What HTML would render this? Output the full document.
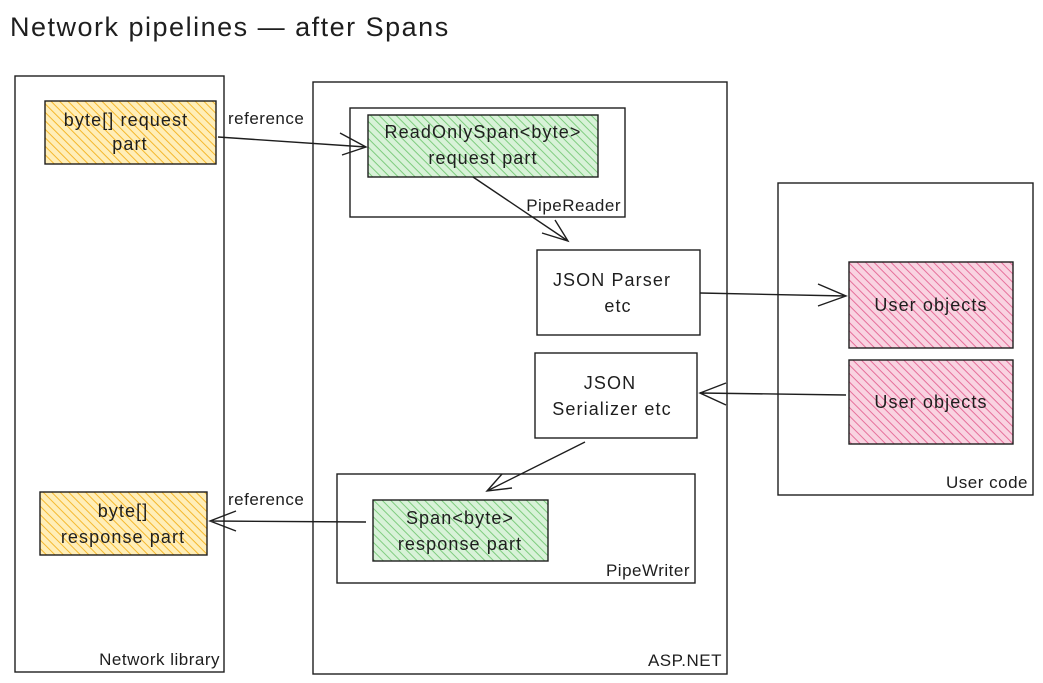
<!DOCTYPE html>
<html><head><meta charset="utf-8"><style>
html,body{margin:0;padding:0;background:#fff;}
svg{display:block}
text{font-family:"Liberation Sans",sans-serif;fill:#1e1e1e}
</style></head><body>
<svg width="1043" height="683" viewBox="0 0 1043 683" xmlns="http://www.w3.org/2000/svg">
<defs>
<pattern id="po" width="6" height="6" patternUnits="userSpaceOnUse" patternTransform="rotate(-45)">
<rect width="6" height="6" fill="#ffeeb8"/><line x1="0" y1="0" x2="0" y2="6" stroke="#f5b82e" stroke-width="2"/></pattern>
<pattern id="pg" width="6" height="6" patternUnits="userSpaceOnUse" patternTransform="rotate(-45)">
<rect width="6" height="6" fill="#d8f2d8"/><line x1="0" y1="0" x2="0" y2="6" stroke="#7fcc7f" stroke-width="2"/></pattern>
<pattern id="pp" width="6" height="6" patternUnits="userSpaceOnUse" patternTransform="rotate(-45)">
<rect width="6" height="6" fill="#f9d3e1"/><line x1="0" y1="0" x2="0" y2="6" stroke="#e6709b" stroke-width="2"/></pattern>
</defs>
<g fill="none" stroke="#1e1e1e" stroke-width="1.4">
<rect x="15" y="76" width="209" height="596"/>
<rect x="313" y="82" width="414" height="592"/>
<rect x="350" y="108" width="275" height="109"/>
<rect x="537" y="250" width="163" height="85"/>
<rect x="535" y="353" width="162" height="85"/>
<rect x="337" y="474" width="358" height="109"/>
<rect x="778" y="183" width="255" height="312"/>
<rect x="45" y="101" width="171" height="63" fill="url(#po)"/>
<rect x="40" y="492" width="167" height="63" fill="url(#po)"/>
<rect x="368" y="115" width="230" height="62" fill="url(#pg)"/>
<rect x="373" y="500" width="175" height="61" fill="url(#pg)"/>
<rect x="849" y="262" width="164" height="86" fill="url(#pp)"/>
<rect x="849" y="360" width="164" height="84" fill="url(#pp)"/>
<path d="M218 137 L366 147 M340 133 L366 147 L342 155"/>
<path d="M473 177 L568 241 M542 233 L568 241 L555 220"/>
<path d="M700 293 L846 296 M818 284 L846 296 L818 306"/>
<path d="M846 395 L700 393 M726 383 L700 393 L726 405"/>
<path d="M585 442 L487 491 M502 474 L487 491 L512 488"/>
<path d="M366 522 L210 521 M236 511 L210 521 L236 531"/>
</g>
<text x="10" y="36" font-size="27" letter-spacing="1.5">Network pipelines — after Spans</text>
<g font-size="18" text-anchor="middle" letter-spacing="1.1">
<text x="126" y="126">byte[] request</text><text x="130" y="150">part</text>
<text x="123" y="517">byte[]</text><text x="123" y="543">response part</text>
<text x="483" y="138">ReadOnlySpan&lt;byte&gt;</text><text x="483" y="164">request part</text>
<text x="460" y="524">Span&lt;byte&gt;</text><text x="460" y="550">response part</text>
<text x="612" y="286">JSON Parser</text><text x="618" y="312">etc</text>
<text x="610" y="389">JSON</text><text x="612" y="415">Serializer etc</text>
<text x="931" y="311">User objects</text>
<text x="931" y="408">User objects</text>
</g>
<g font-size="17" letter-spacing="0.5">
<text x="228" y="124">reference</text>
<text x="228" y="505">reference</text>
<text x="621" y="211" text-anchor="end">PipeReader</text>
<text x="690" y="576" text-anchor="end">PipeWriter</text>
<text x="1028" y="488" text-anchor="end">User code</text>
<text x="220" y="665" text-anchor="end">Network library</text>
<text x="722" y="666" text-anchor="end">ASP.NET</text>
</g>
</svg>
</body></html>
